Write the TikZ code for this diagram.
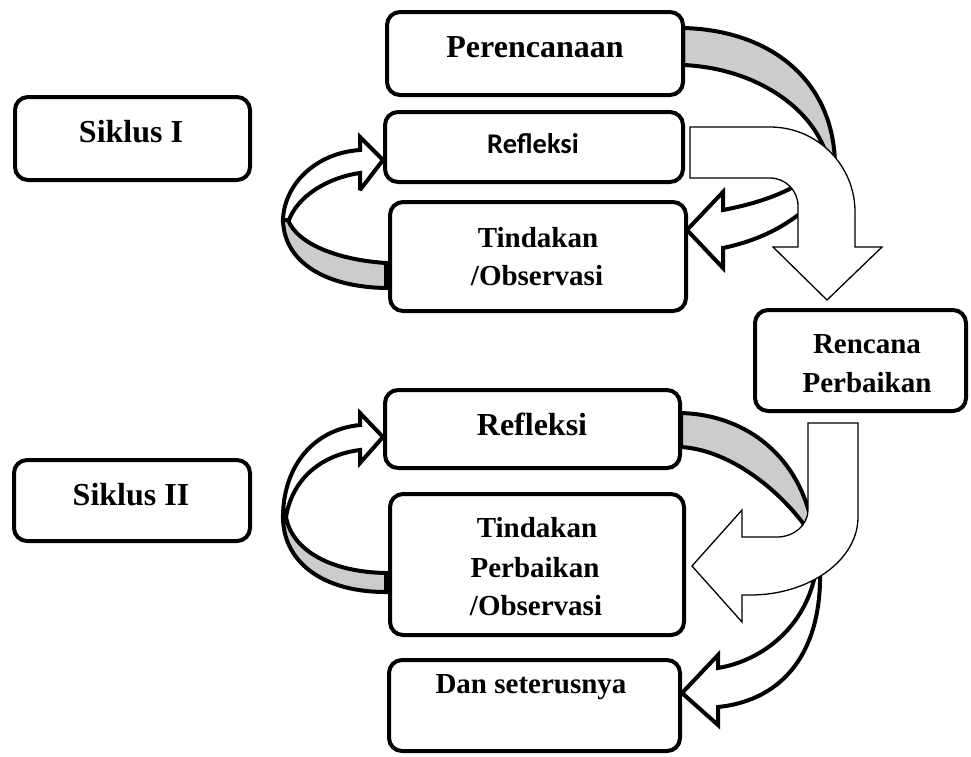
\documentclass[tikz,border=0pt]{standalone}
\usepackage{fontspec}
\setmainfont{Liberation Serif}
\newfontfamily\calibfont{Carlito}
\definecolor{bandgray}{RGB}{204,204,204}
\begin{document}
\begin{tikzpicture}[x=1pt,y=-1pt,
  box/.style={draw, line width=4pt, rounded corners=13pt, fill=white, inner sep=0pt},
  ribbon/.style={draw, line width=4pt, line join=miter, miter limit=3},
  back/.style={ribbon, fill=bandgray},
  front/.style={ribbon, fill=white},
  block/.style={draw, line width=1.3pt, fill=white, line join=miter},
  big/.style={font=\fontsize{32}{38}\selectfont\bfseries, anchor=base, inner sep=0pt},
  mid/.style={font=\fontsize{29}{35}\selectfont\bfseries, anchor=base, inner sep=0pt},
  sans/.style={font=\calibfont\bfseries\fontsize{28.5}{34}\selectfont, anchor=base, inner sep=0pt}]
\useasboundingbox (0,0) rectangle (971,756);

% ---- Arrow A: Perencanaan -> Tindakan/Observasi (ribbon)
\draw[back] (683,28) .. controls (770,30) and (834,80) .. (835,165)
  -- (828,160) .. controls (815,108) and (755,68) .. (683,65) -- cycle;
\draw[front] (812,175) .. controls (790,192) and (760,203) .. (723,210)
  -- (723,192) -- (687,230) -- (723,268) -- (723,248)
  .. controls (760,240) and (795,225) .. (830,185) -- cycle;
% ---- Arrow C: Refleksi -> Rencana Perbaikan (block)
\draw[block] (690,127) -- (770,127) .. controls (817,127) and (855,165) .. (855,212)
  -- (855,247) -- (882,247) -- (827,300) -- (773,247) -- (798,247) -- (798,206)
  .. controls (798,190.5) and (785.5,178) .. (770,178) -- (690,178) -- cycle;

% ---- Arrow B: Siklus I loop
\draw[back] (386,263) .. controls (340,260) and (298,245) .. (288,220)
  -- (283,220) .. controls (284,262) and (325,287) .. (386,288) -- cycle;
\draw[front] (283,220) .. controls (284,185) and (315,153) .. (360,150)
  -- (360,137) -- (383,160) -- (360,190) -- (360,173)
  .. controls (325,178) and (297,198) .. (289,220) -- cycle;

% ---- Arrow B2: Siklus II loop
\draw[back] (386,573) .. controls (330,572) and (292,550) .. (286,517)
  -- (283,517) .. controls (283,560) and (320,592) .. (386,592) -- cycle;
\draw[front] (283,517) .. controls (283,470) and (310,430) .. (360,425)
  -- (360,413) -- (383,437) -- (360,463) -- (360,450)
  .. controls (320,455) and (292,480) .. (286,517) -- cycle;

% ---- Arrow E: Refleksi (II) -> Dan seterusnya (ribbon)
\draw[back] (681,413) .. controls (750,415) and (800,460) .. (812,525)
  -- (808,530) .. controls (780,490) and (730,450) .. (681,447) -- cycle;
\draw[front] (815,575) .. controls (805,625) and (765,660) .. (718,668)
  -- (718,655) -- (682,693) -- (718,725) -- (718,707)
  .. controls (785,700) and (822,650) .. (820,570) -- cycle;
% ---- Arrow D: Rencana Perbaikan -> Tindakan Perbaikan (block)
\draw[block] (808,423) -- (858,423) -- (858,517)
  .. controls (858,560) and (809.6,595) .. (750,595) -- (742,595)
  -- (742,622) -- (692,566) -- (742,510) -- (742,537) -- (777,537)
  .. controls (794,537) and (808,525) .. (808,510) -- cycle;

% ---- Boxes
\node[box, minimum width=235pt, minimum height=83pt] (s1) at (132.5,138.5) {};
\node[box, minimum width=236pt, minimum height=81pt] (s2) at (132,500.5) {};
\node[box, minimum width=296pt, minimum height=83pt] (peren) at (535,53.5) {};
\node[box, minimum width=298pt, minimum height=70pt] (refl1) at (534,147) {};
\node[box, minimum width=296pt, minimum height=109pt] (tind1) at (538,256.5) {};
\node[box, minimum width=211pt, minimum height=101pt] (renc) at (860.5,360.5) {};
\node[box, minimum width=295pt, minimum height=78pt] (refl2) at (532.5,429) {};
\node[box, minimum width=294pt, minimum height=141pt] (tind2) at (537,564.5) {};
\node[box, minimum width=291pt, minimum height=91pt] (dan) at (534.5,705.5) {};

% ---- Texts
\node[big] (ts1) at (131,142) {Siklus I};
\node[big] (ts2) at (131,505) {Siklus II};
\node[big] (tperen) at (535,57) {Perencanaan};
\node[sans] (trefl1) at (533,153) {Refleksi};
\node[mid] (tt1a) at (538,247) {Tindakan};
\node[mid] (tt1b) at (537,285) {/Observasi};
\node[mid] (tra) at (867,353) {Rencana};
\node[mid] (trb) at (867,392) {Perbaikan};
\node[big] (trefl2) at (532,435) {Refleksi};
\node[mid] (tt2a) at (537,537) {Tindakan};
\node[mid] (tt2b) at (535,577) {Perbaikan};
\node[mid] (tt2c) at (536,615) {/Observasi};
\node[mid] (tdan) at (531,693) {Dan seterusnya};
\end{tikzpicture}
\end{document}
